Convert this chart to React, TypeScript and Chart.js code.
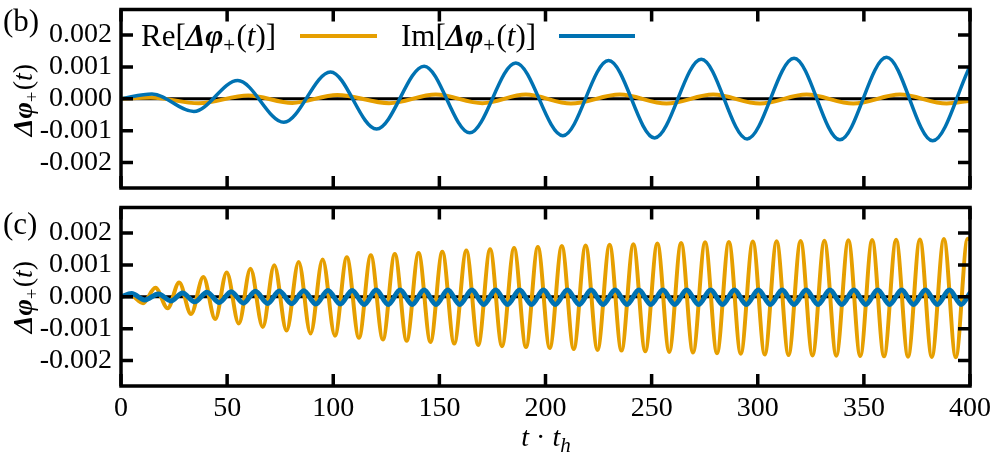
import React, { useRef, useEffect } from 'react';
import { Chart, registerables } from 'chart.js';

Chart.register(...registerables);

const ORANGE = '#E69F00';
const BLUE = '#0072B2';
const FONT = "'Liberation Serif', 'Times New Roman', serif";

// axis ticks
const xTicks = [0, 50, 100, 150, 200, 250, 300, 350, 400];
const yTicks = [-0.002, -0.001, 0, 0.001, 0.002];
const yRange = [-0.0028, 0.0028];

// panel (b): extrema
const reB_t = [0, 14, 36.6, 60, 80.7, 101.9, 126.3, 148.3, 170.3, 190.7, 212, 235, 257, 279, 301, 323, 345, 367, 389, 400];
const reB_v = [0, 0.00004, -0.00014, 0.0001, -0.00013, 0.00012, -0.00014, 0.00013, -0.00014, 0.00013, -0.00015, 0.00013, -0.00015, 0.00013, -0.00015, 0.00013, -0.00015, 0.00013, -0.00015, -0.00006];
const imB_t = [0, 14.6, 34.3, 55, 76.7, 98.7, 120.4, 142.8, 164.3, 186, 208.2, 229.7, 251.4, 273.4, 295, 317.1, 338.7, 360.7, 382.4, 400];
const imB_v = [0, 0.00015, -0.0004, 0.00057, -0.00074, 0.00084, -0.00095, 0.00102, -0.00107, 0.00112, -0.00116, 0.0012, -0.00123, 0.00124, -0.00126, 0.00127, -0.00129, 0.0013, -0.00132, 0.00102];

// panel (c)
const reC_t = [0, 4.5, 10.4, 16.2, 22.0, 27.4, 33.0, 38.8, 44.4, 49.8, 55.5, 61.0, 66.8, 72.2, 78.0, 83.7, 89.3, 95.0, 100.8, 106.4,
  112.1, 117.7, 123.4, 129.0, 134.6, 140.2, 145.8, 151.4, 157.0, 162.7, 168.3, 173.9, 179.5, 185.2, 190.8, 196.4, 202.0, 207.7,
  213.3, 218.9, 224.5, 230.2, 235.8, 241.4, 247.0, 252.7, 258.3, 263.9, 269.5, 275.2, 280.8, 286.4, 292.0, 297.7, 303.3, 308.9,
  314.5, 320.2, 325.8, 331.4, 337.0, 342.7, 348.3, 353.9, 359.5, 365.2, 370.8, 376.4, 382.0, 387.7, 393.3, 398.9, 400];
const reC_v = [0, 0.00004, -0.0002, 0.00028, -0.00036, 0.00045, -0.00054, 0.00062, -0.0007, 0.00076, -0.00084, 0.00088, -0.00095, 0.00099, -0.00106, 0.00109, -0.00115, 0.00117, -0.00122, 0.00124,
  -0.00129, 0.0013, -0.00134, 0.00134, -0.00138, 0.00137, -0.00142, 0.00141, -0.00147, 0.00145, -0.00151, 0.00149, -0.00155, 0.00153, -0.00158, 0.00156, -0.00161, 0.00159,
  -0.00164, 0.00161, -0.00167, 0.00163, -0.00169, 0.00165, -0.00171, 0.00167, -0.00173, 0.00169, -0.00175, 0.00171, -0.00177, 0.00172, -0.00179, 0.00173, -0.00181, 0.00174,
  -0.00183, 0.00175, -0.00184, 0.00176, -0.00185, 0.00177, -0.00186, 0.00178, -0.00187, 0.00179, -0.00188, 0.0018, -0.00189, 0.00181, -0.0019, 0.00182, 0.00179];
const imC_t = [0, 5.0, 11.2, 17.6, 23.5, 29.0, 34.7, 40.5, 46.3, 51.9, 57.7, 63.3, 69.1, 74.6, 80.4, 86.1, 91.8, 97.5, 103.3, 108.9,
  114.6, 120.2, 125.9, 131.5, 137.2, 142.8, 148.4, 154.0, 159.6, 165.3, 170.9, 176.5, 182.1, 187.8, 193.4, 199.0, 204.6, 210.3,
  215.9, 221.5, 227.1, 232.8, 238.4, 244.0, 249.6, 255.3, 260.9, 266.5, 272.1, 277.8, 283.4, 289.0, 294.6, 300.3, 305.9, 311.5,
  317.1, 322.8, 328.4, 334.0, 339.6, 345.3, 350.9, 356.5, 362.1, 367.8, 373.4, 379.0, 384.6, 390.3, 395.9, 400];
const imC_v = [0, 0.0001, -0.0001, 0.00009, -0.00013, 0.00012, -0.00016, 0.00014, -0.00018, 0.00016, -0.0002, 0.00017, -0.00021, 0.00018, -0.00022, 0.00019, -0.00023, 0.0002, -0.00023, 0.0002,
  -0.00024, 0.00021, -0.00024, 0.00021, -0.00024, 0.00021, -0.00024, 0.00021, -0.00024, 0.00021, -0.00024, 0.00021, -0.00024, 0.00021, -0.00024, 0.00021, -0.00024, 0.00021,
  -0.00024, 0.00021, -0.00024, 0.00021, -0.00024, 0.00021, -0.00024, 0.00021, -0.00024, 0.00021, -0.00024, 0.00021, -0.00024, 0.00021, -0.00024, 0.00021, -0.00024, 0.00021,
  -0.00024, 0.00021, -0.00024, 0.00021, -0.00024, 0.00021, -0.00024, 0.00021, -0.00024, 0.00021, -0.00024, 0.00021, -0.00024, 0.00021, -0.00024, 0.00012];

const toPoints = (ts: number[], vs: number[]) => ts.map((t, i) => ({ x: t, y: vs[i] }));

// border box + inward ticks, drawn over the curves
const framePlugin = {
  id: 'frame',
  afterDatasetsDraw(chart: any) {
    const { ctx, chartArea: a, scales } = chart;
    const len = 12;
    ctx.save();
    ctx.strokeStyle = '#000';
    ctx.lineWidth = 3.5;
    ctx.beginPath();
    xTicks.forEach((v) => {
      const px = scales.x.getPixelForValue(v);
      ctx.moveTo(px, a.top);
      ctx.lineTo(px, a.top + len);
      ctx.moveTo(px, a.bottom);
      ctx.lineTo(px, a.bottom - len);
    });
    yTicks.forEach((v) => {
      const py = scales.y.getPixelForValue(v);
      ctx.moveTo(a.left, py);
      ctx.lineTo(a.left + len, py);
      ctx.moveTo(a.right, py);
      ctx.lineTo(a.right - len, py);
    });
    ctx.stroke();
    ctx.strokeRect(a.left, a.top, a.right - a.left, a.bottom - a.top);
    ctx.restore();
  },
};

interface PanelProps {
  re: { x: number; y: number }[];
  im: { x: number; y: number }[];
  height: number;
  padTop: number;
  showX: boolean;
  reWidth: number;
  imWidth: number;
}

const Panel: React.FC<PanelProps> = ({ re, im, height, padTop, showX, reWidth, imWidth }) => {
  const canvasRef = useRef<HTMLCanvasElement>(null);
  const chartRef = useRef<Chart | null>(null);

  useEffect(() => {
    if (!canvasRef.current) return;
    const ctx = canvasRef.current.getContext('2d');
    if (!ctx) return;
    if (chartRef.current) chartRef.current.destroy();

    const tickFont = { family: FONT, size: 28 };

    chartRef.current = new Chart(ctx, {
      type: 'line',
      data: {
        datasets: [
          { data: im, borderColor: BLUE, borderWidth: imWidth, order: 0 },
          { data: re, borderColor: ORANGE, borderWidth: reWidth, order: 1 },
          {
            data: [{ x: xTicks[0], y: 0 }, { x: xTicks[xTicks.length - 1], y: 0 }],
            borderColor: '#000',
            borderWidth: 3,
            order: 2,
            cubicInterpolationMode: 'default',
          },
        ],
      },
      options: {
        animation: false,
        responsive: false,
        events: [],
        layout: { padding: { left: 0, right: 30, top: padTop, bottom: showX ? 0 : 8 } },
        elements: {
          point: { radius: 0 },
          line: { cubicInterpolationMode: 'monotone', fill: false, borderCapStyle: 'round', borderJoinStyle: 'round' },
        },
        plugins: { legend: { display: false }, tooltip: { enabled: false } },
        scales: {
          x: {
            type: 'linear',
            min: xTicks[0],
            max: xTicks[xTicks.length - 1],
            display: showX,
            grid: { display: false, drawTicks: false },
            border: { display: false },
            ticks: { font: tickFont, color: '#000', padding: 6, maxRotation: 0, callback: (v: any) => String(v) },
            afterBuildTicks: (s: any) => { s.ticks = xTicks.map((value) => ({ value })); },
            afterFit: (s: any) => {
              if (showX) s.height = 71;
              s.paddingLeft = 0;
              s.paddingRight = 0;
            },
          },
          y: {
            type: 'linear',
            min: yRange[0],
            max: yRange[1],
            grid: { display: false, drawTicks: false },
            border: { display: false },
            ticks: { font: tickFont, color: '#000', padding: 9, callback: (v: any) => Number(v).toFixed(3) },
            afterBuildTicks: (s: any) => { s.ticks = yTicks.map((value) => ({ value })); },
            afterFit: (s: any) => {
              s.width = 121;
              s.paddingTop = 0;
              s.paddingBottom = 0;
            },
          },
        },
      },
      plugins: [framePlugin],
    });

    return () => {
      if (chartRef.current) {
        chartRef.current.destroy();
        chartRef.current = null;
      }
    };
  }, [re, im, height, padTop, showX, reWidth, imWidth]);

  return <canvas ref={canvasRef} width={1000} height={height} style={{ display: 'block' }} />;
};

const Phi: React.FC = () => (
  <>
    <span style={{ fontWeight: 'bold', fontStyle: 'italic' }}>Δφ</span>
    <sub style={{ fontSize: '0.68em', verticalAlign: '-0.3em', marginRight: '0.06em' }}>+</sub>
    (<i>t</i>)
  </>
);

const abs = (style: React.CSSProperties): React.CSSProperties => ({ position: 'absolute', whiteSpace: 'nowrap', lineHeight: 1, ...style });

const App: React.FC = () => {
  const reB = toPoints(reB_t, reB_v);
  const imB = toPoints(imB_t, imB_v);
  const reC = toPoints(reC_t, reC_v);
  const imC = toPoints(imC_t, imC_v);

  return (
    <div style={{ position: 'fixed', left: 0, top: 0, width: 1000, height: 457, background: '#fff', fontFamily: FONT, color: '#000' }}>
      <div style={abs({ left: 0, top: 0 })}>
        <Panel re={reB} im={imB} height={196} padTop={9.5} showX={false} reWidth={4} imWidth={3.5} />
      </div>
      <div style={abs({ left: 0, top: 196 })}>
        <Panel re={reC} im={imC} height={261} padTop={11.5} showX={true} reWidth={4} imWidth={5} />
      </div>

      {/* panel labels */}
      <div style={abs({ left: 3, top: 5, fontSize: 31 })}>(b)</div>
      <div style={abs({ left: 3, top: 208, fontSize: 31 })}>(c)</div>

      {/* y titles */}
      <div style={abs({ left: 25, top: 100, fontSize: 28, transform: 'translate(-50%, -50%) rotate(-90deg)' })}><Phi /></div>
      <div style={abs({ left: 25, top: 297, fontSize: 28, transform: 'translate(-50%, -50%) rotate(-90deg)' })}><Phi /></div>

      {/* legend */}
      <div style={abs({ left: 141, top: 20, fontSize: 31 })}>Re[<Phi />]</div>
      <div style={abs({ left: 300, top: 34, width: 77, height: 4, background: ORANGE })} />
      <div style={abs({ left: 401, top: 20, fontSize: 31 })}>Im[<Phi />]</div>
      <div style={abs({ left: 559, top: 34, width: 76, height: 4, background: BLUE })} />

      {/* x title */}
      <div style={abs({ left: 546, top: 423, fontSize: 28, transform: 'translateX(-50%)' })}>
        <i>t</i> · <i>t</i><sub style={{ fontSize: '0.75em', verticalAlign: '-0.3em' }}><i>h</i></sub>
      </div>
    </div>
  );
};

export default App;
